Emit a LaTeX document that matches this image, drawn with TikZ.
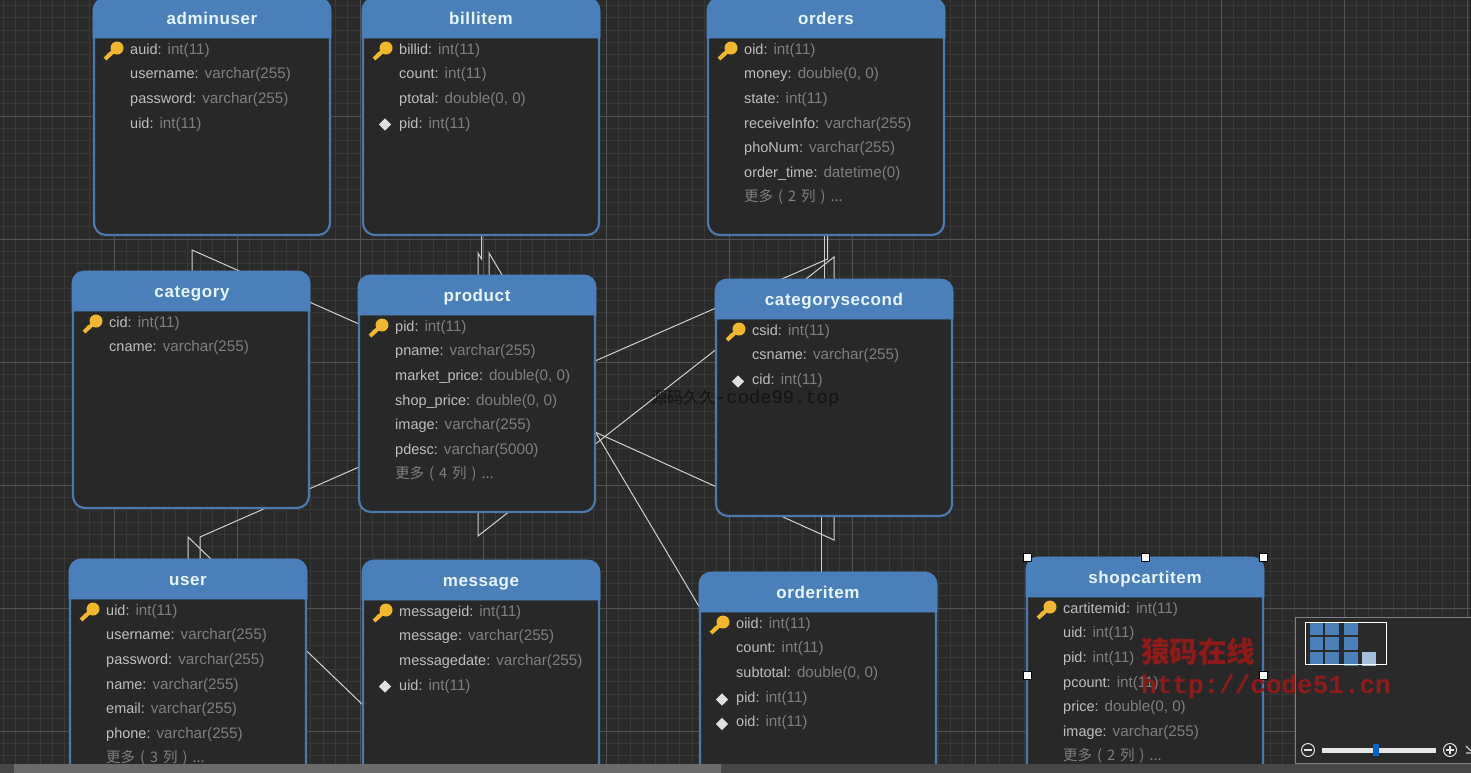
\documentclass[tikz,border=0pt]{standalone}
\usepackage{fontspec}
\setmainfont{Liberation Sans}
\newfontfamily\titlefont[LetterSpace=3.5]{Liberation Sans}
\newfontfamily\cjkfont{Noto Sans CJK SC}
\newfontfamily\markfont{Liberation Mono}
\usetikzlibrary{shapes.geometric}
\definecolor{canvasbg}{HTML}{2A2A2A}
\definecolor{gridminor}{HTML}{383838}
\definecolor{gridmajor}{HTML}{525252}
\definecolor{tableblue}{HTML}{4A7FB9}
\definecolor{tableedge}{HTML}{4C79AD}
\definecolor{tablebody}{HTML}{282828}
\definecolor{titlewhite}{HTML}{E8F5FF}
\definecolor{namegray}{HTML}{BEBEBE}
\definecolor{typegray}{HTML}{7E7E7E}
\definecolor{keygold}{HTML}{F0B72F}
\definecolor{relgray}{HTML}{D0D0D0}
\definecolor{markred}{HTML}{8E1A1A}
\newcommand{\fd}[2]{\strut#1:\hspace{6pt}{\color{typegray}\fontsize{15.2}{24.6}\selectfont#2}}
\newcommand{\more}[1]{\strut{\color{typegray}\cjkfont\fontsize{14.5}{24.6}\selectfont 更多\hspace{5pt}(\hspace{5pt}#1\hspace{5pt}列\hspace{5pt})\hspace{5pt}...}}
\pgfdeclarelayer{gridlayer}
\pgfdeclarelayer{edgelayer}
\pgfsetlayers{gridlayer,edgelayer,main}
\tikzset{
  tablebox/.style={draw=tableedge,line width=2.2pt,fill=tablebody,rounded corners=12pt,minimum width=236pt,minimum height=236pt,inner sep=0pt,outer sep=0pt},
  tablehead/.style={fill=tableblue,draw=tableblue,line width=.8pt},
  tabletitle/.style={anchor=base,text=titlewhite,font=\titlefont\bfseries\fontsize{17}{17}\selectfont,inner sep=0pt},
  fieldlist/.style={anchor=north west,align=left,inner sep=0pt,text=namegray,font=\fontsize{14.5}{24.6}\selectfont},
  fkmark/.style={diamond,fill=white!88!black,minimum size=12.5pt,inner sep=0pt},
  handle/.style={draw=black,fill=white,line width=1pt,minimum size=8pt,inner sep=0pt},
  relline/.style={draw=relgray,line width=1pt},
  keyicon/.pic={
    \draw[keygold,line width=4pt] (0,0) -- (-12,11);
    \draw[keygold,line width=1.6pt] (-9,5) -- (-6,8);
    \fill[keygold] (0,0) circle [radius=6.5];
  }
}
\begin{document}
\begin{tikzpicture}[x=1pt,y=-1pt]
\useasboundingbox (0,0) rectangle (1471,772);
\begin{pgfonlayer}{gridlayer}
\fill[canvasbg] (0,0) rectangle (1471,772);
\draw[gridminor,line width=.8pt,shift={(3.3,5.3)}] (-12.3,-12.3) grid[step=12.3pt] (1476,775);
\draw[gridmajor,line width=.8pt,shift={(114,116)}] (-123,-123) grid[step=123pt] (1476,775);
\end{pgfonlayer}
% tables
\node[tablebox] (adminuser) at (212,117) {};
\fill[tablehead] (93,38) [rounded corners=12pt] -- (93,-2) -- (331,-2) [sharp corners] -- (331,38) -- cycle;
\node[tabletitle] (adminusertitle) at (212,24) {adminuser};
\pic at (117,48) {keyicon};
\node[fieldlist] (adminuserfields) at (130,36.8) {\fd{auid}{int(11)}\\\fd{username}{varchar(255)}\\\fd{password}{varchar(255)}\\\fd{uid}{int(11)}};

\node[tablebox] (billitem) at (481,117) {};
\fill[tablehead] (362,38) [rounded corners=12pt] -- (362,-2) -- (600,-2) [sharp corners] -- (600,38) -- cycle;
\node[tabletitle] (billitemtitle) at (481,24) {billitem};
\pic at (386,48) {keyicon};
\node[fieldlist] (billitemfields) at (399,36.8) {\fd{billid}{int(11)}\\\fd{count}{int(11)}\\\fd{ptotal}{double(0, 0)}\\\fd{pid}{int(11)}};
\node[fkmark] (billitempid) at (385,124.5) {};

\node[tablebox] (orders) at (826,117) {};
\fill[tablehead] (707,38) [rounded corners=12pt] -- (707,-2) -- (945,-2) [sharp corners] -- (945,38) -- cycle;
\node[tabletitle] (orderstitle) at (826,24) {orders};
\pic at (731,48) {keyicon};
\node[fieldlist] (ordersfields) at (744,36.8) {\fd{oid}{int(11)}\\\fd{money}{double(0, 0)}\\\fd{state}{int(11)}\\\fd{receiveInfo}{varchar(255)}\\\fd{phoNum}{varchar(255)}\\\fd{order\_time}{datetime(0)}\\\more{2}};

\node[tablebox] (category) at (191,390) {};
\fill[tablehead] (72,311) [rounded corners=12pt] -- (72,271) -- (310,271) [sharp corners] -- (310,311) -- cycle;
\node[tabletitle] (categorytitle) at (192,297) {category};
\pic at (96,321) {keyicon};
\node[fieldlist] (categoryfields) at (109,309.8) {\fd{cid}{int(11)}\\\fd{cname}{varchar(255)}};

\node[tablebox] (product) at (477,394) {};
\fill[tablehead] (358,315) [rounded corners=12pt] -- (358,275) -- (596,275) [sharp corners] -- (596,315) -- cycle;
\node[tabletitle] (producttitle) at (477,301) {product};
\pic at (382,325) {keyicon};
\node[fieldlist] (productfields) at (395,313.8) {\fd{pid}{int(11)}\\\fd{pname}{varchar(255)}\\\fd{market\_price}{double(0, 0)}\\\fd{shop\_price}{double(0, 0)}\\\fd{image}{varchar(255)}\\\fd{pdesc}{varchar(5000)}\\\more{4}};

\node[tablebox] (categorysecond) at (834,398) {};
\fill[tablehead] (715,319) [rounded corners=12pt] -- (715,279) -- (953,279) [sharp corners] -- (953,319) -- cycle;
\node[tabletitle] (categorysecondtitle) at (834,305) {categorysecond};
\pic at (739,329) {keyicon};
\node[fieldlist] (categorysecondfields) at (752,317.8) {\fd{csid}{int(11)}\\\fd{csname}{varchar(255)}\\\fd{cid}{int(11)}};
\node[fkmark] (categorysecondcid) at (738,381.5) {};

\node[tablebox] (user) at (188,678) {};
\fill[tablehead] (69,599) [rounded corners=12pt] -- (69,559) -- (307,559) [sharp corners] -- (307,599) -- cycle;
\node[tabletitle] (usertitle) at (188,585) {user};
\pic at (93,609) {keyicon};
\node[fieldlist] (userfields) at (106,597.8) {\fd{uid}{int(11)}\\\fd{username}{varchar(255)}\\\fd{password}{varchar(255)}\\\fd{name}{varchar(255)}\\\fd{email}{varchar(255)}\\\fd{phone}{varchar(255)}\\\more{3}};

\node[tablebox] (message) at (481,679) {};
\fill[tablehead] (362,600) [rounded corners=12pt] -- (362,560) -- (600,560) [sharp corners] -- (600,600) -- cycle;
\node[tabletitle] (messagetitle) at (481,586) {message};
\pic at (386,610) {keyicon};
\node[fieldlist] (messagefields) at (399,598.8) {\fd{messageid}{int(11)}\\\fd{message}{varchar(255)}\\\fd{messagedate}{varchar(255)}\\\fd{uid}{int(11)}};
\node[fkmark] (messageuid) at (385,686.5) {};

\node[tablebox] (orderitem) at (818,691) {};
\fill[tablehead] (699,612) [rounded corners=12pt] -- (699,572) -- (937,572) [sharp corners] -- (937,612) -- cycle;
\node[tabletitle] (orderitemtitle) at (818,598) {orderitem};
\pic at (723,622) {keyicon};
\node[fieldlist] (orderitemfields) at (736,610.8) {\fd{oiid}{int(11)}\\\fd{count}{int(11)}\\\fd{subtotal}{double(0, 0)}\\\fd{pid}{int(11)}\\\fd{oid}{int(11)}};
\node[fkmark] (orderitempid) at (722,699.5) {};
\node[fkmark] (orderitemoid) at (722,724) {};

\node[tablebox] (shopcartitem) at (1145,676) {};
\fill[tablehead] (1026,597) [rounded corners=12pt] -- (1026,557) -- (1264,557) [sharp corners] -- (1264,597) -- cycle;
\node[tabletitle] (shopcartitemtitle) at (1145,583) {shopcartitem};
\pic at (1050,607) {keyicon};
\node[fieldlist] (shopcartitemfields) at (1063,595.8) {\fd{cartitemid}{int(11)}\\\fd{uid}{int(11)}\\\fd{pid}{int(11)}\\\fd{pcount}{int(11)}\\\fd{price}{double(0, 0)}\\\fd{image}{varchar(255)}\\\more{2}};
% selection handles
\node[handle] (handlenw) at (1027,557.5) {};
\node[handle] (handlen) at (1145,557.5) {};
\node[handle] (handlene) at (1263,557.5) {};
\node[handle] (handlew) at (1027,675.5) {};
\node[handle] (handlee) at (1263,675.5) {};
% relations, behind the tables
\coordinate (catbend) at (192,250);
\coordinate (billbendb) at (481.5,259);
\coordinate (billbenda) at (478,253);
\coordinate (itembend) at (489,253);
\coordinate (secondbend) at (834,257);
\coordinate (prodbend) at (478,536);
\coordinate (secondbelow) at (834,540);
\coordinate (ordersbend) at (827.5,259);
\coordinate (usermsgbend) at (188,537);
\coordinate (userprodbend) at (200,537);
\begin{pgfonlayer}{edgelayer}
\draw[relline] ([xshift=1pt]category.north) -- (catbend) -- ([yshift=70pt]product.west);
\draw[relline] ([xshift=.5pt]billitem.south) -- (billbendb) -- (billbenda) -- ([xshift=1pt]product.north);
\draw[relline] ([xshift=12pt]product.north) -- (itembend) -- ([yshift=83pt]orderitem.west);
\draw[relline] ([xshift=1pt]product.south) -- (prodbend) -- (secondbend) -- (categorysecond.north);
\draw[relline] (categorysecond.south) -- (secondbelow) -- ([yshift=-38pt]product.east);
\draw[relline] ([xshift=-1.5pt]orders.south) -- ([xshift=-9.5pt]categorysecond.north);
\draw[relline] ([xshift=1.5pt]orders.south) -- (ordersbend) -- ([yshift=33pt]product.east);
\draw[relline] ([xshift=-13pt]categorysecond.south) -- ([xshift=3pt]orderitem.north);
\draw[relline] (user.north) -- (usermsgbend) -- ([yshift=-26pt]message.west);
\draw[relline] ([xshift=12pt]user.north) -- (userprodbend) -- ([yshift=-73pt]product.west);
\end{pgfonlayer}
% scroll bar
\fill[black!72] (-2,764) rectangle (1473,776);
\fill[black!58] (14,764) rectangle (721,776);
% minimap
\draw[fill=canvasbg,draw=black!50] (1295,617) rectangle (1480,763);
\fill[tableblue] (1309.5,622.5) rectangle (1323,635);
\fill[tableblue] (1325,622.5) rectangle (1339,635);
\fill[tableblue] (1344,622.5) rectangle (1358,635);
\fill[tableblue] (1309.5,637) rectangle (1323,650);
\fill[tableblue] (1325,637) rectangle (1339,650);
\fill[tableblue] (1344,637) rectangle (1358,650);
\fill[tableblue] (1309.5,652) rectangle (1323,665);
\fill[tableblue] (1325,652) rectangle (1339,665);
\fill[tableblue] (1344,652) rectangle (1358,666);
\fill[tableblue!50!white] (1362,652) rectangle (1375.5,666);
\draw[white,line width=1pt] (1305,622) rectangle (1386,664);
\fill[black!10] (1322,748) rectangle (1436,753);
\fill[blue!50!cyan!80!black] (1373,744) rectangle (1379,756);
\draw[black!10,line width=1pt] (1308,750) circle [radius=6.5];
\draw[black!10,line width=1.6pt] (1304,750) -- (1312,750);
\draw[black!10,line width=1pt] (1450,750) circle [radius=6.5];
\draw[black!10,line width=1.6pt] (1446,750) -- (1454,750) (1450,746) -- (1450,754);
\draw[black!20,line width=1.2pt] (1466,746) -- (1471,751) (1466,753) -- (1471,753);
% watermarks
\node[text=black!92,inner sep=0pt,anchor=west] (markcode) at (651,398.5) {\cjkfont\fontsize{16}{16}\selectfont 源码久久\markfont\fontsize{18.8}{16}\selectfont-code99.top};
\node[text=markred,inner sep=0pt,anchor=west] (markcn) at (1141,652) {\cjkfont\bfseries\fontsize{28.5}{28}\selectfont 猿码在线};
\node[text=markred,inner sep=0pt,anchor=west] (markurl) at (1141,687) {\markfont\bfseries\fontsize{26}{26}\selectfont http://code51.cn};
\end{tikzpicture}
\end{document}
